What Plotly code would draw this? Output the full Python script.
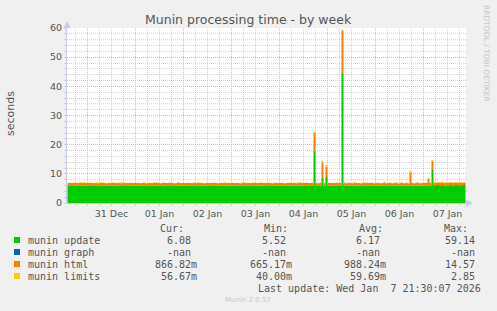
import pandas as pd
import plotly.graph_objects as go

# ---------------- data (hourly, starting 2025-12-30 14:00) ----------------
start_time = "2025-12-30 14:00"

munin_update = [
    5.92, 6.05, 5.88, 6.12, 5.97, 5.85, 6.02, 5.94, 6.08, 5.90,
    5.96, 6.10, 5.87, 5.93, 6.04, 5.81, 5.99, 6.07, 5.90, 5.86, 6.01, 5.95, 6.11, 5.89, 5.92, 6.03, 5.84, 5.98, 6.06, 5.91, 5.87, 6.00, 5.94, 5.89,
    5.93, 6.02, 5.86, 5.97, 6.09, 5.83, 5.95, 6.01, 5.88, 5.92, 6.05, 5.90, 5.86, 5.99, 6.03, 5.85, 5.94, 6.08, 5.91, 5.87, 5.96, 6.02, 5.89, 5.93,
    5.88, 5.99, 6.04, 5.86, 5.92, 6.07, 5.84, 5.95, 6.01, 5.90, 5.87, 6.03, 5.93, 5.85, 5.98, 6.06, 5.89, 5.91, 6.00, 5.86, 5.94, 6.02, 5.88, 5.96,
    5.95, 5.87, 6.03, 5.91, 5.84, 6.08, 5.93, 5.89, 6.00, 5.86, 5.97, 6.05, 5.90, 5.88, 6.02, 5.94, 5.85, 5.99, 6.06, 5.92, 5.87, 6.01, 5.93, 5.89,
    5.91, 6.04, 5.86, 5.95, 6.02, 5.88, 5.93, 6.07, 5.85, 5.97, 6.00, 5.89, 5.94, 6.05, 5.87, 5.92, 6.01, 18.0, 5.96, 5.88, 6.03, 8.6, 5.90, 8.9,
    5.94, 6.02, 5.87, 5.91, 6.06, 5.89, 5.95, 44.5, 5.98, 5.86, 6.01, 5.93, 5.88, 6.04, 5.90, 5.97, 5.85, 6.00, 5.92, 6.07, 5.89, 5.94, 6.03, 5.87,
    5.93, 6.01, 5.88, 5.96, 6.05, 5.87, 5.92, 6.00, 5.89, 5.95, 6.03, 5.86, 5.91, 6.06, 5.90, 5.97, 5.88, 6.02, 5.94, 5.87, 5.99, 6.04, 5.91, 5.89,
    5.95, 6.02, 6.10, 5.98, 11.3, 6.12, 6.05, 6.18, 6.09, 6.14, 6.03, 6.11, 6.07, 6.16, 6.04, 6.10, 6.13, 6.06, 6.12, 6.08, 6.15, 6.08,
]

munin_html = [
    0.92, 0.88, 0.95, 0.86, 0.91, 0.97, 0.89, 0.93, 0.87, 0.94,
    0.90, 0.86, 0.96, 0.92, 0.88, 0.99, 0.91, 0.87, 0.94, 0.95, 0.89, 0.93, 0.85, 0.96, 0.92, 0.88, 0.97, 0.90, 0.86, 0.93, 0.95, 0.89, 0.91, 0.94,
    0.91, 0.87, 0.95, 0.90, 0.86, 0.98, 0.92, 0.88, 0.94, 0.91, 0.87, 0.96, 0.93, 0.89, 0.90, 0.97, 0.92, 0.86, 0.94, 0.91, 0.88, 0.95, 0.93, 0.90,
    0.94, 0.89, 0.86, 0.96, 0.91, 0.87, 0.98, 0.90, 0.88, 0.95, 0.92, 0.86, 0.93, 0.97, 0.89, 0.91, 0.94, 0.87, 0.90, 0.96, 0.92, 0.88, 0.95, 0.91,
    0.90, 0.95, 0.87, 0.92, 0.97, 0.86, 0.91, 0.94, 0.89, 0.96, 0.88, 0.90, 0.93, 0.95, 0.87, 0.92, 0.98, 0.89, 0.86, 0.94, 0.91, 0.88, 0.93, 0.96,
    0.92, 0.88, 0.95, 0.90, 0.86, 0.97, 0.91, 0.87, 0.94, 0.89, 0.93, 0.96, 0.88, 0.91, 0.95, 0.90, 0.87, 6.0, 0.93, 0.89, 0.92, 5.2, 0.94, 3.6,
    0.91, 0.87, 0.95, 0.92, 0.88, 0.96, 0.90, 14.57, 0.93, 0.89, 0.94, 0.91, 0.86, 0.97, 0.92, 0.88, 0.95, 0.90, 0.93, 0.87, 0.96, 0.91, 0.89, 0.94,
    0.90, 0.94, 0.88, 0.92, 0.96, 0.87, 0.91, 0.93, 0.89, 0.95, 0.90, 0.86, 0.94, 0.92, 0.88, 0.97, 0.91, 4.4, 0.93, 0.89, 0.95, 0.90, 0.87, 0.94,
    0.92, 0.88, 2.2, 0.95, 2.9, 0.93, 0.89, 0.96, 0.91, 0.94, 0.87, 0.95, 0.90, 0.93, 0.88, 0.96, 0.92, 0.89, 0.94, 0.90, 0.87, 0.87,
]

munin_limits = [
    0.06, 0.05, 0.07, 0.06, 0.05, 0.06, 0.30, 0.06, 0.05, 0.06,
    0.06, 0.07, 0.05, 0.06, 0.06, 0.28, 0.05, 0.06, 0.07, 0.06, 0.05, 0.06, 0.06, 0.07, 0.05, 0.06, 0.32, 0.06, 0.05, 0.06, 0.07, 0.06, 0.06, 0.05,
    0.06, 0.06, 0.07, 0.05, 0.06, 0.06, 0.05, 0.07, 0.06, 0.25, 0.06, 0.05, 0.06, 0.07, 0.06, 0.05, 0.06, 0.06, 0.07, 0.05, 0.06, 0.30, 0.06, 0.06,
    0.05, 0.06, 0.07, 0.06, 0.06, 0.05, 0.06, 0.27, 0.06, 0.07, 0.05, 0.06, 0.06, 0.06, 0.05, 0.07, 0.06, 0.06, 0.05, 0.06, 0.29, 0.06, 0.07, 0.06,
    0.06, 0.05, 0.06, 0.07, 0.06, 0.06, 0.31, 0.05, 0.06, 0.06, 0.07, 0.06, 0.05, 0.06, 0.26, 0.06, 0.07, 0.05, 0.06, 0.06, 0.06, 0.07, 0.05, 0.06,
    0.06, 0.07, 0.05, 0.06, 0.06, 0.06, 0.05, 0.07, 0.06, 0.28, 0.06, 0.05, 0.06, 0.07, 0.06, 0.06, 0.05, 0.45, 0.06, 0.07, 0.06, 0.80, 0.06, 0.55,
    0.06, 0.05, 0.07, 0.06, 0.06, 0.05, 0.06, 0.40, 0.06, 0.07, 0.05, 0.06, 0.30, 0.06, 0.05, 0.06, 0.07, 0.06, 0.06, 0.05, 0.06, 0.07, 0.06, 0.06,
    0.05, 0.06, 0.07, 0.06, 0.27, 0.06, 0.05, 0.06, 0.07, 0.06, 0.06, 0.05, 0.06, 0.06, 0.07, 0.05, 0.06, 0.60, 0.06, 0.06, 0.05, 0.07, 0.06, 0.06,
    0.06, 0.07, 0.35, 0.06, 0.50, 0.06, 0.05, 0.07, 0.06, 0.06, 0.05, 0.06, 0.07, 0.06, 0.06, 0.05, 0.06, 0.07, 0.06, 0.06, 0.05, 0.06,
]

series_names = ["munin update", "munin graph", "munin html", "munin limits"]
series_colors = ["#00CC00", "#0066B3", "#FF8000", "#FFCC00"]
stat_cur = ["6.08\u00a0", "-nan\u00a0", "866.82m", "56.67m"]
stat_min = ["5.52\u00a0", "-nan\u00a0", "665.17m", "40.00m"]
stat_avg = ["6.17\u00a0", "-nan\u00a0", "988.24m", "59.69m"]
stat_max = ["59.14\u00a0", "-nan\u00a0", "14.57\u00a0", "2.85\u00a0"]
last_update = "Last update: Wed Jan\u00a0\u00a07 21:30:07 2026"

x_range = ["2025-12-30 13:45", "2026-01-07 21:15"]
y_range = [0, 60]

# ---------------- figure ----------------
n = len(munin_update)
assert len(munin_html) == n and len(munin_limits) == n
times = pd.date_range(start_time, periods=n, freq="h")

W, H = 497, 311
L, R, T, B = 67, 466, 28, 203  # plot area in pixels


def px(x):
    return (x - L) / (R - L)


def py(y):
    return (B - y) / (B - T)


fig = go.Figure()
for name, vals, col in [
    ("munin update", munin_update, series_colors[0]),
    ("munin html", munin_html, series_colors[2]),
    ("munin limits", munin_limits, series_colors[3]),
]:
    fig.add_trace(go.Scatter(
        x=times, y=vals, name=name, mode="lines", stackgroup="one",
        line=dict(width=0, shape="hv", color=col), fillcolor=col,
        hoverinfo="skip",
    ))

grid_major = "rgba(228,140,140,0.65)"
grid_minor = "rgba(180,180,180,0.55)"
axis_col = "#C8CCF0"
txt_col = "#555555"

fig.update_layout(
    width=W, height=H,
    margin=dict(l=L, r=W - R, t=T, b=H - B),
    paper_bgcolor="#F0F0F0", plot_bgcolor="#FFFFFF",
    showlegend=False,
    font=dict(family="DejaVu Sans", size=9.5, color=txt_col),
    xaxis=dict(
        type="date", range=x_range, showgrid=True,
        dtick=86400000, tick0="2025-12-31 00:00", tickformat="%d %b",
        ticklabelmode="period", gridcolor=grid_major, griddash="1px,1px", gridwidth=1,
        minor=dict(dtick=6 * 3600000, tick0="2025-12-31 00:00", showgrid=True,
                   gridcolor=grid_minor, griddash="1px,1px", gridwidth=1,
                   ticks="outside", ticklen=2, tickcolor=axis_col),
        ticks="outside", ticklen=2, tickcolor=axis_col,
        showline=True, linecolor=axis_col, linewidth=1,
        zeroline=False, fixedrange=True,
        tickfont=dict(size=9.5, color=txt_col),
    ),
    yaxis=dict(
        range=y_range, dtick=10, showgrid=True,
        gridcolor=grid_major, griddash="1px,1px", gridwidth=1,
        minor=dict(dtick=2, showgrid=True, gridcolor=grid_minor,
                   griddash="1px,1px", gridwidth=1,
                   ticks="outside", ticklen=2, tickcolor=axis_col),
        ticks="outside", ticklen=2, tickcolor=axis_col,
        showline=True, linecolor=axis_col, linewidth=1,
        zeroline=False, fixedrange=True,
        tickfont=dict(size=9.5, color=txt_col),
    ),
)

ann = []
# title
ann.append(dict(text="Munin processing time - by week", x=px(248), y=py(19),
                xref="paper", yref="paper", showarrow=False,
                font=dict(family="DejaVu Sans", size=12.5, color=txt_col),
                xanchor="center", yanchor="middle"))
# y-axis title
ann.append(dict(text="seconds", x=px(10), y=py(114), xref="paper", yref="paper",
                showarrow=False, textangle=-90,
                font=dict(family="DejaVu Sans", size=11, color=txt_col),
                xanchor="center", yanchor="middle"))
# rrdtool watermark
ann.append(dict(text="RRDTOOL / TOBI OETIKER", x=px(487), y=py(53),
                xref="paper", yref="paper", showarrow=False, textangle=90,
                font=dict(family="DejaVu Sans", size=7.5, color="#C4C4C4"),
                xanchor="center", yanchor="middle"))

mono = dict(family="DejaVu Sans Mono", size=10, color=txt_col)
# legend header
for label, xr in [("Cur:", 186), ("Min:", 290), ("Avg:", 385), ("Max:", 470)]:
    ann.append(dict(text=label, x=px(xr), y=py(228), xref="paper", yref="paper",
                    showarrow=False, font=mono, xanchor="right", yanchor="middle"))

row_y = [240, 252, 264, 276]
for i, name in enumerate(series_names):
    yy = row_y[i]
    ann.append(dict(text=name, x=px(26), y=py(yy), xref="paper", yref="paper",
                    showarrow=False, font=mono, xanchor="left", yanchor="middle"))
    for col_vals, xr in [(stat_cur, 199), (stat_min, 294), (stat_avg, 388), (stat_max, 483)]:
        ann.append(dict(text=col_vals[i], x=px(xr), y=py(yy), xref="paper", yref="paper",
                        showarrow=False, font=mono, xanchor="right", yanchor="middle"))

ann.append(dict(text=last_update, x=px(483), y=py(288), xref="paper", yref="paper",
                showarrow=False, font=mono, xanchor="right", yanchor="middle"))
ann.append(dict(text="Munin 2.0.57", x=px(248), y=py(300), xref="paper", yref="paper",
                showarrow=False, font=dict(family="DejaVu Sans", size=7, color="#C8C8C8"),
                xanchor="center", yanchor="middle"))

shapes = []
# legend colour squares
for i, col in enumerate(series_colors):
    yy = row_y[i]
    shapes.append(dict(type="rect", xref="paper", yref="paper",
                       x0=px(14), x1=px(20), y0=py(yy + 3), y1=py(yy - 3),
                       fillcolor=col, line=dict(width=0)))
# axis arrows
shapes.append(dict(type="path", xref="paper", yref="paper",
                   path=f"M {px(63.5)},{py(28)} L {px(70.5)},{py(28)} L {px(67)},{py(21)} Z",
                   fillcolor=axis_col, line=dict(width=0)))
shapes.append(dict(type="path", xref="paper", yref="paper",
                   path=f"M {px(466)},{py(199.5)} L {px(466)},{py(206.5)} L {px(473)},{py(203)} Z",
                   fillcolor=axis_col, line=dict(width=0)))

fig.update_layout(annotations=ann, shapes=shapes)
fig.write_html("out.html")
